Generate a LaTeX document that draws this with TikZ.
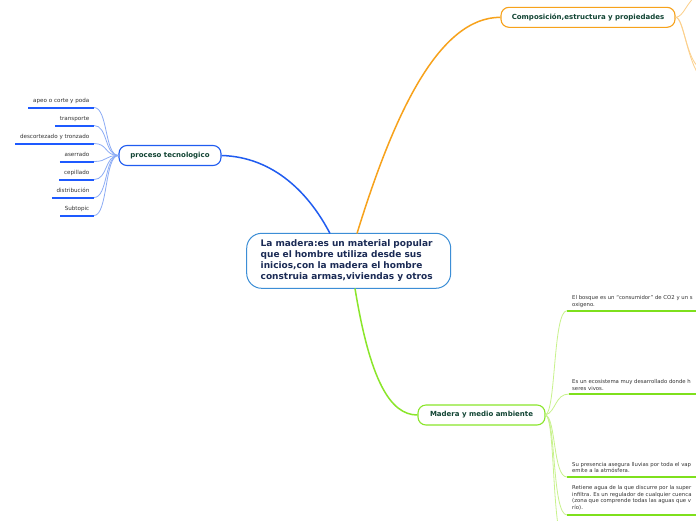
\documentclass[tikz,border=0pt]{standalone}
\usepackage{fontspec}
\setmainfont{DejaVu Sans}
\definecolor{mainblue}{RGB}{32,92,240}
\definecolor{ulblue}{RGB}{30,90,255}
\definecolor{lightblue}{RGB}{140,172,245}
\definecolor{centerborder}{RGB}{60,142,214}
\definecolor{mainorange}{RGB}{247,162,27}
\definecolor{lightorange}{RGB}{252,208,140}
\definecolor{maingreen}{RGB}{138,230,42}
\definecolor{lightgreen}{RGB}{200,242,140}
\definecolor{ulgreen}{RGB}{126,224,28}
\definecolor{nodetext}{RGB}{17,68,51}
\definecolor{centertext}{RGB}{27,43,85}
\definecolor{leaftext}{RGB}{51,51,51}
\tikzset{
  topicbox/.style={draw, fill=white, line width=1.1pt, rounded corners=8pt,
    text=nodetext, font=\fontsize{7}{8}\selectfont\bfseries, inner sep=0pt},
  leftleaf/.style={text=leaftext, font=\fontsize{5.6}{6.5}\selectfont,
    inner xsep=4.5pt, inner ysep=3pt, text height=4pt, text depth=2pt},
  rightleaf/.style={text=leaftext, font=\fontsize{5.35}{6.7}\selectfont,
    align=left, inner sep=0pt, anchor=base west},
  mainlink/.style={line width=1.5pt},
  sublink/.style={line width=0.8pt},
  ulblueline/.style={draw=ulblue, line width=2pt},
  ulgreenline/.style={draw=ulgreen, line width=1.6pt},
}
\begin{document}
\begin{tikzpicture}[x=1pt,y=-1pt]
\useasboundingbox (0,0) rectangle (696,520);
\clip (0,0) rectangle (696,520);
\fill[white] (0,0) rectangle (696,520);

% central node
\node[draw=centerborder, fill=white, line width=1pt, rounded corners=15pt,
  minimum width=204pt, minimum height=55pt, text width=176pt, align=left,
  inner xsep=14pt, text=centertext,
  font=\fontsize{9}{11.1}\selectfont\bfseries] (center) at (348.7,260.8)
  {La madera:es un material popular\\que el hombre utiliza desde sus\\inicios,con la madera el hombre\\construia armas,viviendas y otros};

% main topics
\node[topicbox, draw=mainblue, minimum width=102pt, minimum height=20pt] (proc) at (170,155.5) {proceso tecnologico};
\node[topicbox, draw=mainorange, minimum width=174pt, minimum height=20pt] (comp) at (588,17.3) {Composición,estructura y propiedades};
\node[topicbox, draw=maingreen, minimum width=127pt, minimum height=20pt] (mad) at (481.5,415) {Madera y medio ambiente};

% main connectors
\coordinate (cb) at (330,233.5);
\coordinate (co) at (357,233.5);
\coordinate (cg) at (355,288.5);
\draw[mainlink, mainblue] (proc.east) .. controls (275,157) and (310,195) .. (cb);
\draw[mainlink, mainorange] (co) .. controls (395,110) and (440,17.3) .. (comp.west);
\draw[mainlink, maingreen] (cg) .. controls (370,380) and (390,415) .. (mad.west);

% left leaves
\node[leftleaf, anchor=south east] (l1) at (94,107.5) {apeo o corte y poda};
\node[leftleaf, anchor=south east] (l2) at (94,125.5) {transporte};
\node[leftleaf, anchor=south east] (l3) at (94,143.5) {descortezado y tronzado};
\node[leftleaf, anchor=south east] (l4) at (94,161.5) {aserrado};
\node[leftleaf, anchor=south east] (l5) at (94,179.5) {cepillado};
\node[leftleaf, anchor=south east] (l6) at (94,197.5) {distribución};
\node[leftleaf, anchor=south east] (l7) at (94,215.5) {Subtopic};
\foreach \k in {l1,l2,l3,l4,l5,l6,l7}{
  \draw[sublink, lightblue] (\k.south east) .. controls +(14,0) and +(-14,0) .. (proc.west);
}
\foreach \k in {l1,l2,l3,l4,l5,l6,l7}{
  \draw[ulblueline] (\k.south west) -- (\k.south east);
}

% orange sub connectors (children outside the view)
\coordinate (o1) at (700,-8);
\coordinate (o2) at (700,68);
\coordinate (o3) at (704,80);
\draw[sublink, lightorange] (comp.east) .. controls (684,17) and (686,2) .. (o1);
\draw[sublink, lightorange] (comp.east) .. controls (684,17) and (686,60) .. (o2);
\draw[sublink, lightorange] (comp.east) .. controls (684,17) and (688,70) .. (o3);

% right leaves (anchor = baseline of last line)
\coordinate (r1) at (567,310.7);
\coordinate (r2) at (569,394);
\coordinate (r3) at (567,477);
\coordinate (r4) at (567,515);
\coordinate (r5) at (567,548);
\node[rightleaf] (t1) at (572,306.5) {El bosque es un “consumidor” de CO2 y un s\\oxigeno.};
\node[rightleaf] (t2) at (572,390.3) {Es un ecosistema muy desarrollado donde h\\seres vivos.};
\node[rightleaf] (t3) at (572,472.7) {Su presencia asegura lluvias por toda el vap\\emite a la atmósfera.};
\node[rightleaf] (t4) at (572,509.5) {Retiene agua de la que discurre por la super\\infiltra. Es un regulador de cualquier cuenca\\(zona que comprende todas las aguas que v\\río).};
\foreach \r in {r1,r2,r3,r4}{
  \draw[ulgreenline] (\r) -- ++(140,0);
}
\draw[sublink, lightgreen] (mad.east) .. controls (556,411) and (553,310.7) .. (r1);
\draw[sublink, lightgreen] (mad.east) .. controls (556,412) and (555,394) .. (r2);
\draw[sublink, lightgreen] (mad.east) .. controls (556,418) and (553,477) .. (r3);
\draw[sublink, lightgreen] (mad.east) .. controls (556,418) and (552,515) .. (r4);
\draw[sublink, lightgreen] (mad.east) .. controls (556,418) and (551,548) .. (r5);
\end{tikzpicture}
\end{document}
